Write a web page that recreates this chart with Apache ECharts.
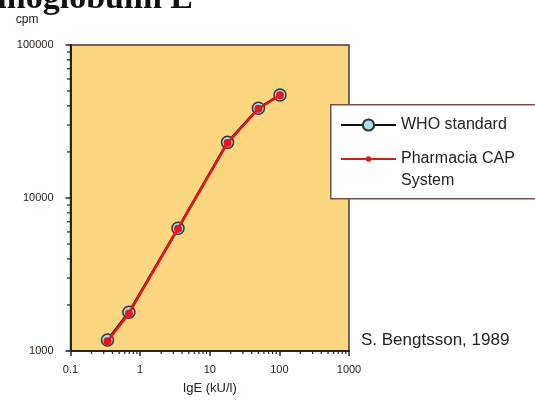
<!DOCTYPE html>
<html>
<head>
<meta charset="utf-8">
<script src="https://cdn.jsdelivr.net/npm/echarts@6/dist/echarts.min.js"></script>
<style>
html,body{margin:0;padding:0;background:#fff;}
#chart{width:535px;height:402px;}
</style>
</head>
<body>
<div id="chart"></div>
<script>
// IgE concentration (kU/l)
const igeValues = [0.34, 0.69, 3.5, 18, 50, 102];
// cpm, WHO standard
const whoValues = [1180, 1790, 6340, 23100, 38600, 47100];
// cpm, Pharmacia CAP System
const capValues = [1160, 1760, 6300, 22900, 38300, 46900];
// axis ranges
const xRange = [0.1, 1000];
const yRange = [1000, 100000];
// minor tick multipliers within each decade
const minorMult = [2, 3, 4, 5, 6, 7, 8, 9];

const xMinor = [];
for (let d = 0.1; d < 999; d *= 10) minorMult.forEach(m => xMinor.push([+(m * d).toPrecision(3), yRange[0]]));
const yMinor = [];
for (let d = 1000; d < 99999; d *= 10) minorMult.forEach(m => yMinor.push([xRange[0], m * d]));

const chart = echarts.init(document.getElementById('chart'));
const ink = '#2a221c';
const fontFam = 'Liberation Sans, Arial, sans-serif';

chart.setOption({
  animation: false,
  grid: {
    left: 70.5, right: 186, top: 45, bottom: 51,
    show: true, backgroundColor: '#FCD780', borderColor: '#4a3a30', borderWidth: 1.5,
    outerBoundsMode: 'none'
  },
  xAxis: {
    type: 'log', logBase: 10, min: xRange[0], max: xRange[1],
    name: 'IgE (kU/l)', nameLocation: 'middle', nameGap: 31,
    nameTextStyle: {fontSize: 13, color: ink, fontFamily: fontFam},
    axisLine: {show: true, lineStyle: {color: ink, width: 2}},
    axisTick: {show: true, length: 5, lineStyle: {color: ink, width: 1.5}},
    axisLabel: {fontSize: 11, color: ink, margin: 13, fontFamily: fontFam, showMinLabel: true, showMaxLabel: true,
      formatter: v => String(+(+v).toPrecision(3))},
    splitLine: {show: false}
  },
  yAxis: {
    type: 'log', logBase: 10, min: yRange[0], max: yRange[1],
    name: 'cpm', nameLocation: 'end', nameGap: 19,
    nameTextStyle: {fontSize: 12, color: ink, fontFamily: fontFam, align: 'right', padding: [0, 32, 0, 0]},
    axisLine: {show: true, lineStyle: {color: ink, width: 2}},
    axisTick: {show: true, length: 5, lineStyle: {color: ink, width: 1.5}},
    axisLabel: {fontSize: 11, color: ink, margin: 17, fontFamily: fontFam, showMinLabel: true, showMaxLabel: true,
      formatter: v => String(Math.round(v))},
    splitLine: {show: false}
  },
  legend: [
    {
      data: [{name: 'WHO standard', itemStyle: {color: '#a4e2ee'}}],
      left: 340, top: 117, padding: 0, orient: 'vertical',
      itemWidth: 55, itemHeight: 14, itemGap: 0, selectedMode: false,
      textStyle: {fontSize: 16, color: '#222', fontFamily: fontFam}
    },
    {
      data: ['Pharmacia CAP System'],
      left: 340, top: 126, padding: 0, orient: 'vertical',
      itemWidth: 55, itemHeight: 7, itemGap: 0, selectedMode: false,
      formatter: () => ' \nPharmacia CAP\nSystem',
      textStyle: {fontSize: 16, lineHeight: 22, color: '#222', fontFamily: fontFam}
    }
  ],
  graphic: [
    {type: 'rect', left: 330, top: 104, z: 0,
     shape: {width: 230, height: 94}, style: {fill: '#fff', stroke: '#7a5048', lineWidth: 1.5}},
    {type: 'text', x: 193, y: 16, z: 10,
     style: {text: 'Immunoglobulin E', align: 'right', verticalAlign: 'bottom', fill: '#111',
             font: 'bold 34px "Liberation Serif", "Times New Roman", serif'}},
    {type: 'text', x: 361, y: 340, z: 10,
     style: {text: 'S. Bengtsson, 1989', align: 'left', verticalAlign: 'middle', fill: '#222',
             font: '17px "Liberation Sans", Arial, sans-serif'}}
  ],
  series: [
    {
      name: 'WHO standard', type: 'line', data: igeValues.map((x, i) => [x, whoValues[i]]),
      lineStyle: {color: '#111', width: 2.5},
      itemStyle: {color: '#a4e2ee', borderColor: '#333', borderWidth: 1.5},
      symbol: 'circle', symbolSize: 12, z: 3
    },
    {
      name: 'Pharmacia CAP System', type: 'line', data: igeValues.map((x, i) => [x, capValues[i]]),
      lineStyle: {color: '#e8141c', width: 2.5},
      itemStyle: {color: '#e8141c'},
      symbol: 'circle', symbolSize: 8, z: 4
    },
    {
      type: 'custom', silent: true, clip: false, data: xMinor,
      renderItem: (params, api) => {
        const p = api.coord([api.value(0), api.value(1)]);
        return {type: 'line', shape: {x1: p[0], y1: p[1], x2: p[0], y2: p[1] + 3},
                style: {stroke: ink, lineWidth: 1.2}};
      }
    },
    {
      type: 'custom', silent: true, clip: false, data: yMinor,
      renderItem: (params, api) => {
        const p = api.coord([api.value(0), api.value(1)]);
        return {type: 'line', shape: {x1: p[0] - 3.5, y1: p[1], x2: p[0], y2: p[1]},
                style: {stroke: ink, lineWidth: 1.2}};
      }
    }
  ]
});
</script>
</body>
</html>
